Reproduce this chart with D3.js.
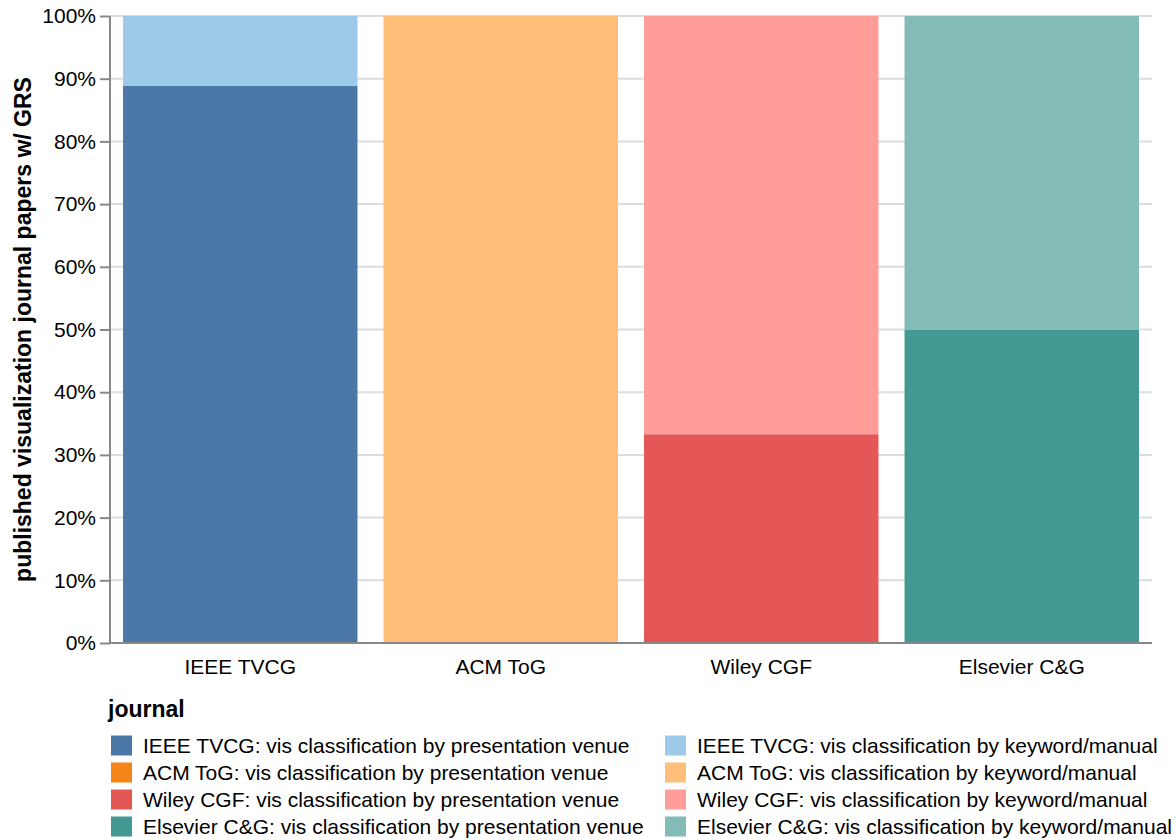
<!DOCTYPE html>
<html>
<head>
<meta charset="utf-8">
<script src="https://cdn.jsdelivr.net/npm/d3@7"></script>
<style>
  html, body { margin: 0; padding: 0; background: #fff; }
  svg { display: block; font-family: "Liberation Sans", Arial, sans-serif; }
</style>
</head>
<body>
<svg id="chart" width="1176" height="840"></svg>
<script>
// ---- data ----
const journals = ["IEEE TVCG", "ACM ToG", "Wiley CGF", "Elsevier C&G"];
const presentationShare = [0.889, 0.0, 0.333, 0.5];
const keywordShare = [0.111, 1.0, 0.667, 0.5];
const presentationColors = ["#4c78a8", "#f58518", "#e45756", "#439894"];
const keywordColors = ["#9ecae9", "#ffbf79", "#ff9d98", "#83bcb6"];
const yTicks = [0, 0.1, 0.2, 0.3, 0.4, 0.5, 0.6, 0.7, 0.8, 0.9, 1.0];
const yTitle = "published visualization journal papers w/ GRS";
const legendTitle = "journal";
const presentationSuffix = ": vis classification by presentation venue";
const keywordSuffix = ": vis classification by keyword/manual";

// ---- layout ----
const svg = d3.select("#chart");
const plotLeft = 110, plotRight = 1152, plotTop = 16, plotBottom = 643;

const x = d3.scaleBand().domain(journals).range([plotLeft, plotRight]).paddingInner(0.1).paddingOuter(0.05);
const y = d3.scaleLinear().domain([0, 1]).range([plotBottom, plotTop]);

// grid
svg.append("g").selectAll("line").data(yTicks).join("line")
  .attr("x1", plotLeft).attr("x2", plotRight)
  .attr("y1", d => y(d)).attr("y2", d => y(d))
  .attr("stroke", "#ddd").attr("stroke-width", 2);

// stacked bars
const rows = journals.map((j, i) => ({ j, i, p: presentationShare[i], k: keywordShare[i] }));
const bars = svg.append("g");
bars.selectAll("rect.p").data(rows).join("rect").attr("class", "p")
  .attr("x", d => x(d.j)).attr("width", x.bandwidth())
  .attr("y", d => y(d.p)).attr("height", d => y(0) - y(d.p))
  .attr("fill", d => presentationColors[d.i]);
bars.selectAll("rect.k").data(rows).join("rect").attr("class", "k")
  .attr("x", d => x(d.j)).attr("width", x.bandwidth())
  .attr("y", d => y(d.p + d.k)).attr("height", d => y(d.p) - y(d.p + d.k))
  .attr("fill", d => keywordColors[d.i]);

// y axis
const yAxis = svg.append("g").attr("transform", `translate(${plotLeft},0)`)
  .call(d3.axisLeft(y).tickValues(yTicks).tickFormat(d3.format(".0%")).tickSize(10).tickPadding(4));
yAxis.select(".domain").attr("stroke", "#888").attr("stroke-width", 2).attr("d", `M0,${plotTop}V${plotBottom}`);
yAxis.selectAll(".tick line").attr("stroke", "#888").attr("stroke-width", 2);
yAxis.selectAll(".tick text").attr("font-size", 21).attr("fill", "#000")
  .attr("font-family", "Liberation Sans, Arial, sans-serif");

// x axis
const xAxis = svg.append("g").attr("transform", `translate(0,${plotBottom})`)
  .call(d3.axisBottom(x).tickSize(0).tickPadding(16));
xAxis.select(".domain").attr("stroke", "#888").attr("stroke-width", 2).attr("d", `M${plotLeft},0H${plotRight}`);
xAxis.selectAll(".tick text").attr("font-size", 21).attr("fill", "#000")
  .attr("font-family", "Liberation Sans, Arial, sans-serif");

// y title
svg.append("text")
  .attr("transform", `translate(31,${(plotTop + plotBottom) / 2}) rotate(-90)`)
  .attr("text-anchor", "middle")
  .attr("font-size", 23).attr("font-weight", "bold").attr("fill", "#000")
  .text(yTitle);

// legend
const lg = svg.append("g");
lg.append("text").attr("x", 108).attr("y", 717)
  .attr("font-size", 23).attr("font-weight", "bold").attr("fill", "#000")
  .text(legendTitle);

const legendItems = [];
journals.forEach((j, i) => {
  legendItems.push({ label: j + presentationSuffix, color: presentationColors[i], col: 0, row: i });
  legendItems.push({ label: j + keywordSuffix, color: keywordColors[i], col: 1, row: i });
});
const colX = [111, 665];
const rowY = d3.scaleLinear().domain([0, 1]).range([745.5, 772.5]);
const li = lg.selectAll("g.item").data(legendItems).join("g").attr("class", "item")
  .attr("transform", d => `translate(${colX[d.col]},${rowY(d.row)})`);
li.append("rect").attr("x", 0).attr("y", -10).attr("width", 21).attr("height", 20).attr("fill", d => d.color);
li.append("text").attr("x", 32).attr("y", 0).attr("dy", "0.35em")
  .attr("font-size", 21).attr("fill", "#000").text(d => d.label);
</script>
</body>
</html>
